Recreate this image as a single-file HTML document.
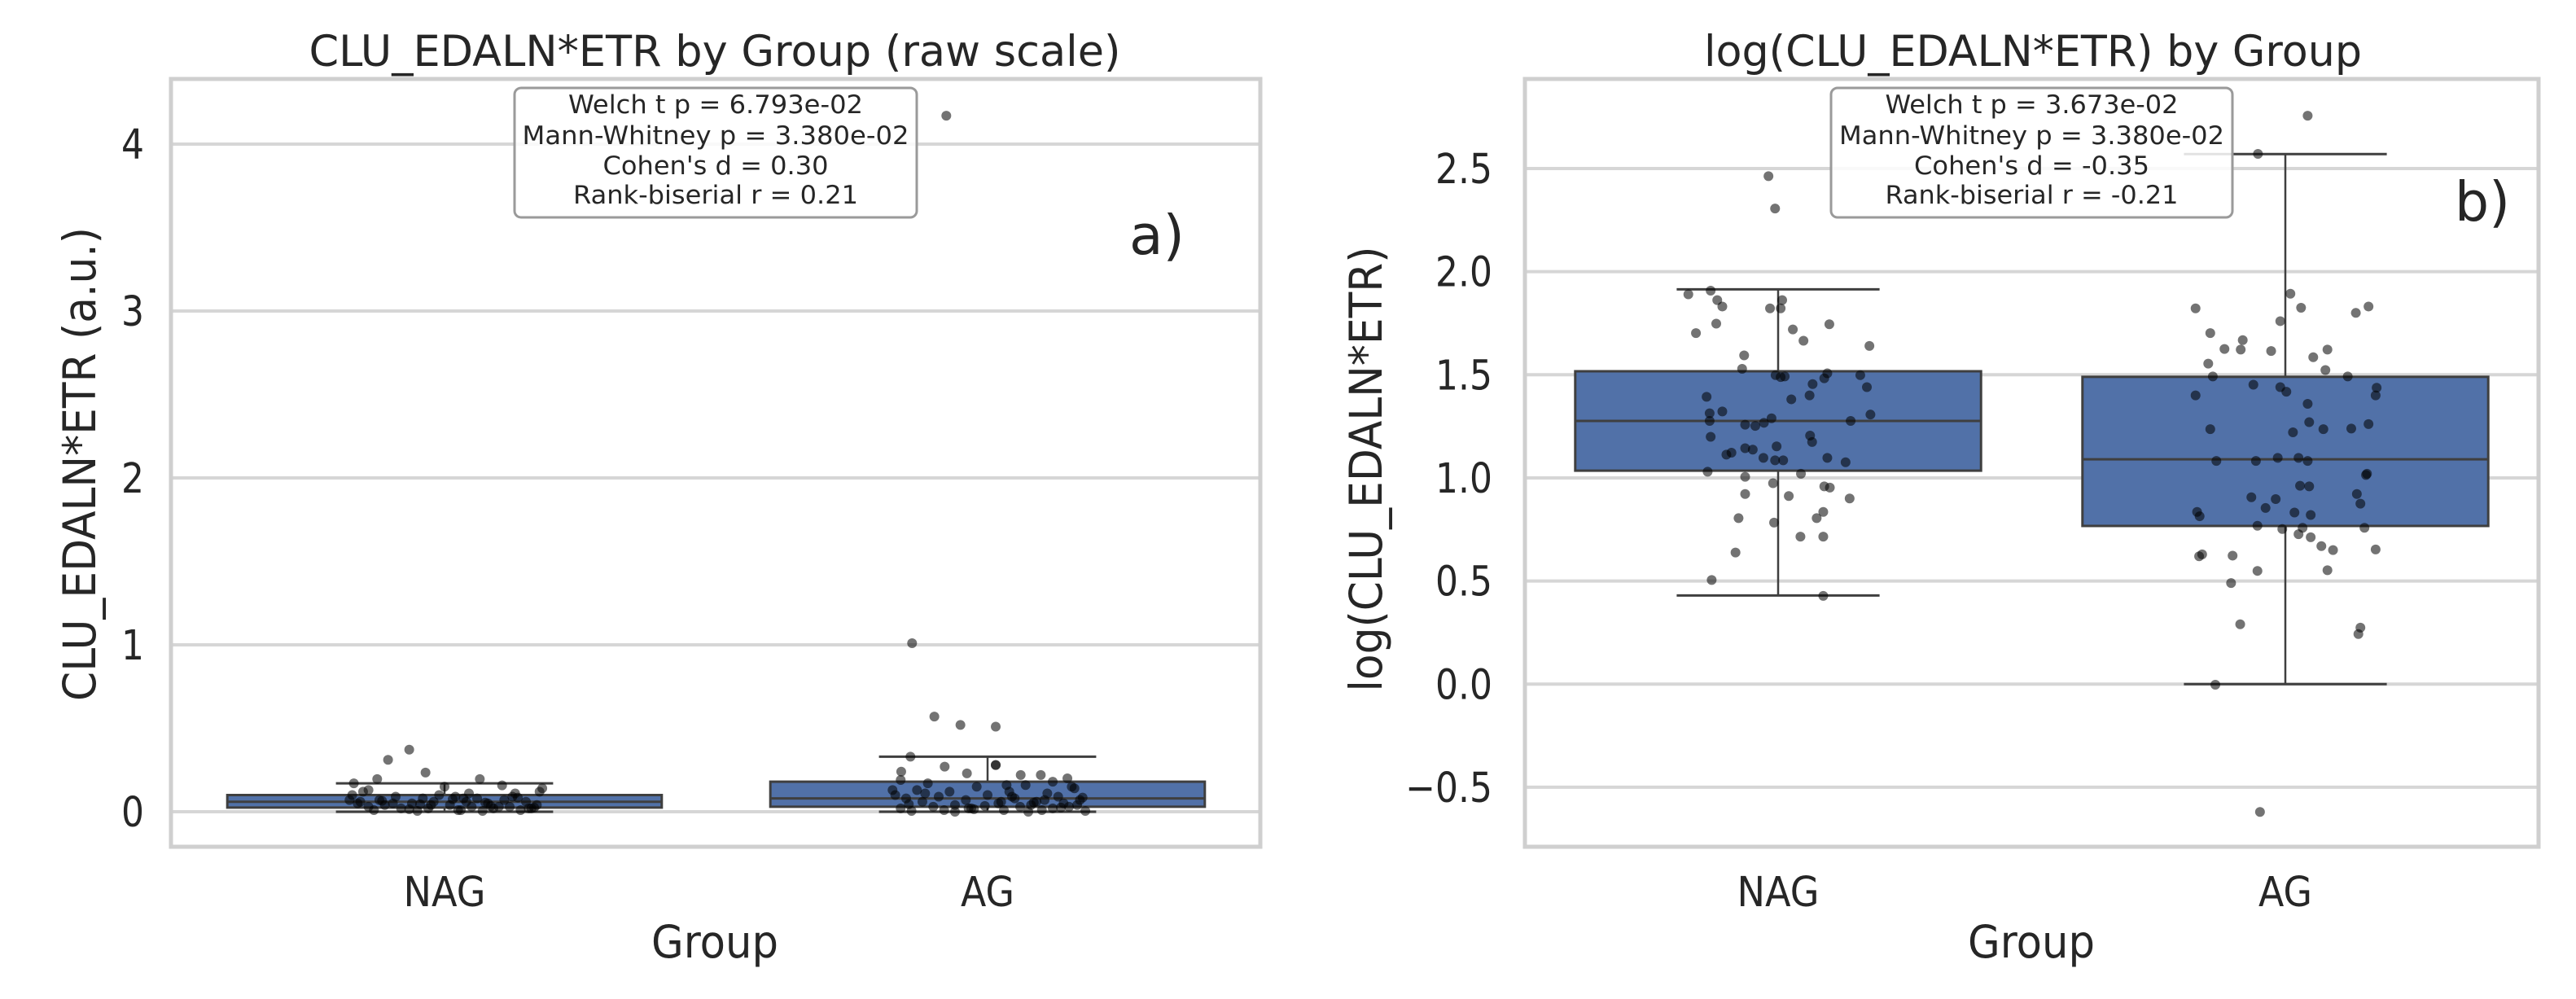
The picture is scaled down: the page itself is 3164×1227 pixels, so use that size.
<!DOCTYPE html>
<html><head><meta charset="utf-8">
<style>
html,body{margin:0;padding:0;background:#fff;}
svg{display:block;}
text{font-family:"DejaVu Sans","Liberation Sans",sans-serif;fill:#262626;}
</style></head>
<body>
<svg id="fig" width="3164" height="1227" viewBox="0 0 3164 1227" xmlns="http://www.w3.org/2000/svg">
<rect x="0" y="0" width="3164" height="1227" fill="#fff"/>
<g id="pa"></g>
<g id="pb"></g>
</svg>
<script>
// ---------- data ----------
const categories = ["NAG", "AG"];
// panel a (raw)
const rawTicks = [0, 1, 2, 3, 4];
const rawTickLabels = ["0", "1", "2", "3", "4"];
const rawBoxNAG = {low: 0.0, q1: 0.025, med: 0.06, q3: 0.10, high: 0.17};
const rawBoxAG = {low: 0.0, q1: 0.03, med: 0.08, q3: 0.18, high: 0.33};
const rawNAGVals = [0.372,0.311,0.235,0.196,0.170,0.196,0.158,0.14,0.12,0.11,0.10,0.09,0.09,0.08,0.08,0.07,0.07,0.06,0.06,0.06,0.05,0.05,0.05,0.04,0.04,0.04,0.03,0.03,0.03,0.02,0.02,0.02,0.02,0.01,0.01,0.01,0.005,0.005,0.10,0.12,0.07,0.03,0.08,0.05,0.15,0.02,0.06,0.11,0.04,0.09,0.015,0.035,0.065,0.075,0.025,0.045,0.13,0.055,0.085,0.01];
const rawNAGJit = [-0.065,-0.104,-0.035,-0.124,-0.167,0.065,0.106,0.18,-0.15,0.13,-0.17,0.02,-0.09,0.06,-0.04,0.11,-0.12,0.15,-0.02,0.04,-0.16,0.08,-0.06,0.17,-0.11,0.01,0.12,-0.14,0.05,-0.08,0.09,-0.03,0.16,-0.13,0.03,0.14,-0.05,0.07,-0.01,0.175,-0.175,0.10,0.035,-0.095,0.0,0.155,-0.155,0.045,-0.025,0.125,-0.065,0.085,-0.115,0.015,0.165,-0.045,-0.14,0.075,0.135,0.025];
const rawAGVals = [4.17,1.01,0.57,0.52,0.51,0.33,0.24,0.27,0.28,0.23,0.28,0.22,0.22,0.20,0.19,0.18,0.17,0.16,0.15,0.14,0.13,0.12,0.12,0.11,0.10,0.10,0.09,0.09,0.08,0.08,0.07,0.07,0.06,0.06,0.05,0.05,0.04,0.04,0.03,0.03,0.03,0.02,0.02,0.02,0.01,0.01,0.01,0.005,0.005,0.0,0.0,0.15,0.11,0.06,0.04,0.02,0.09,0.13,0.07,0.035,0.025,0.045,0.055,0.015,0.085,0.16];
const rawAGJit = [-0.076,-0.139,-0.098,-0.050,0.015,-0.142,-0.159,-0.079,0.015,-0.038,0.015,0.061,0.098,0.147,-0.16,0.12,-0.11,0.07,-0.02,0.16,-0.13,0.04,-0.07,0.11,-0.17,0.0,0.13,-0.09,0.05,-0.15,0.17,-0.04,0.09,-0.12,0.02,0.14,-0.06,0.08,-0.1,0.06,0.15,-0.03,0.12,-0.16,0.03,-0.08,0.1,-0.14,0.18,-0.06,0.075,0.155,-0.115,0.025,0.165,-0.035,0.045,-0.175,0.105,-0.005,0.135,-0.145,0.085,-0.025,0.175,0.035];
// panel b (log)
const logTicks = [-0.5, 0.0, 0.5, 1.0, 1.5, 2.0, 2.5];
const logTickLabels = ["\u22120.5", "0.0", "0.5", "1.0", "1.5", "2.0", "2.5"];
const logBoxNAG = {low: 0.43, q1: 1.035, med: 1.276, q3: 1.517, high: 1.914};
const logBoxAG = {low: 0.0, q1: 0.767, med: 1.09, q3: 1.49, high: 2.57};
const logNAGVals = [2.463,2.306,1.890,1.908,1.862,1.831,1.822,1.822,1.862,1.702,1.748,1.745,1.720,1.665,1.640,1.594,1.529,1.498,1.489,1.492,1.507,1.483,1.455,1.498,1.440,1.393,1.381,1.400,1.322,1.313,1.276,1.267,1.252,1.258,1.289,1.307,1.276,1.199,1.205,1.174,1.144,1.137,1.122,1.113,1.153,1.085,1.097,1.085,1.097,1.076,1.030,1.020,0.974,1.005,0.922,0.912,0.953,0.959,0.900,0.805,0.783,0.835,0.805,0.715,0.715,0.638,0.505,0.428];
const logNAGJit = [-0.019,-0.006,-0.177,-0.133,-0.120,-0.110,0.005,-0.016,0.008,-0.162,-0.122,0.101,0.029,0.050,0.180,-0.067,-0.071,-0.005,0.005,0.013,0.097,0.091,0.068,0.162,0.175,-0.141,0.026,0.062,-0.110,-0.135,-0.135,-0.028,-0.045,-0.065,-0.013,0.182,0.143,-0.133,0.063,0.067,-0.065,-0.050,-0.092,-0.102,-0.003,-0.006,-0.029,0.010,0.097,0.133,-0.139,0.045,-0.010,-0.065,-0.065,0.021,0.102,0.091,0.141,-0.078,-0.008,0.089,0.076,0.044,0.089,-0.084,-0.131,0.089];
const logAGVals = [2.756,2.571,1.893,1.825,1.822,1.831,1.800,1.760,1.702,1.668,1.625,1.622,1.615,1.622,1.585,1.554,1.492,1.452,1.440,1.418,1.523,1.492,1.437,1.400,1.400,1.359,1.270,1.236,1.236,1.261,1.239,1.221,1.082,1.082,1.097,1.097,1.082,1.020,0.962,0.959,0.922,0.875,0.906,0.897,0.854,0.832,0.820,0.835,0.814,0.768,0.752,0.758,0.758,0.712,0.727,0.669,0.650,0.653,0.620,0.623,0.629,0.549,0.552,0.490,0.290,0.274,0.243,-0.003,-0.620,1.014];
const logAGJit = [0.044,-0.054,0.010,0.031,-0.177,0.164,0.139,-0.010,-0.148,-0.084,-0.120,-0.088,-0.028,0.083,0.055,-0.152,-0.143,-0.063,-0.010,0.002,0.079,0.123,0.180,0.178,-0.177,0.044,0.047,0.075,-0.148,0.164,0.130,0.015,-0.136,-0.058,-0.015,0.026,0.044,0.161,0.029,0.047,0.141,0.148,-0.067,-0.019,-0.039,0.018,0.050,-0.174,-0.169,-0.055,-0.006,0.034,0.156,0.050,0.026,0.071,0.094,0.178,-0.170,-0.104,-0.164,-0.055,0.083,-0.107,-0.089,0.148,0.144,-0.138,-0.050,0.159];
const statsA = ["Welch t p = 6.793e-02","Mann-Whitney p = 3.380e-02","Cohen's d = 0.30","Rank-biserial r = 0.21"];
const statsB = ["Welch t p = 3.673e-02","Mann-Whitney p = 3.380e-02","Cohen's d = -0.35","Rank-biserial r = -0.21"];

// ---------- helpers ----------
const NS = "http://www.w3.org/2000/svg";
function mk(parent, tag, attrs){const e=document.createElementNS(NS,tag);for(const k in attrs)e.setAttribute(k,attrs[k]);parent.appendChild(e);return e;}
function txt(parent, s, x, y, size, anchor, len, rot){
  const g=mk(parent,"g",{transform:"translate("+x+","+y+")"+(rot?" rotate(-90)":"")+" scale(1,1.15)"});
  const t=mk(g,"text",{x:0,y:0,"font-size":size,"text-anchor":anchor||"middle"});
  if(len){t.setAttribute("textLength",len);t.setAttribute("lengthAdjust","spacingAndGlyphs");}
  t.textContent=s;return t;
}

function panel(root, cfg){
  const L=cfg.left,R=cfg.right,T=97,B=1040;
  const y=v=>cfg.y0+(cfg.v0-v)*cfg.ppu;
  const xc=i=>cfg.centers[i];
  const bandPx=cfg.centers[1]-cfg.centers[0];
  cfg.ticks.forEach((v,i)=>{
    const g=mk(root,"line",{x1:L,x2:R,y1:y(v),y2:y(v),stroke:"#d6d6d6","stroke-width":4});
    
    
    const t=txt(root,cfg.tickLabels[i],cfg.tickRight,y(v)+18,44,"end");
    
    
  });
  const fr=mk(root,"rect",{x:L,y:T,width:R-L,height:B-T,fill:"none",stroke:"#cfcfcf","stroke-width":5});
  
  
  cfg.boxes.forEach((b,i)=>{
    const cx=xc(i),hw=bandPx*0.4,cw=bandPx*0.2;
    const wl=mk(root,"line",{x1:cx,x2:cx,y1:y(b.high),y2:y(b.q3),stroke:"#3f3f3f","stroke-width":2.5});
    
    
    const wl2=mk(root,"line",{x1:cx,x2:cx,y1:y(b.q1),y2:y(b.low),stroke:"#3f3f3f","stroke-width":2.5});
    
    
    [b.high,b.low].forEach(v=>{
      const c=mk(root,"line",{x1:cx-cw,x2:cx+cw,y1:y(v),y2:y(v),stroke:"#3f3f3f","stroke-width":3});
      
      
    });
    const bx=mk(root,"rect",{x:cx-hw,y:y(b.q3),width:2*hw,height:y(b.q1)-y(b.q3),fill:"#5171a8",stroke:"#3f3f3f","stroke-width":3});
    
    
    const md=mk(root,"line",{x1:cx-hw,x2:cx+hw,y1:y(b.med),y2:y(b.med),stroke:"#3f3f3f","stroke-width":3});
    
    
  });
  cfg.points.forEach((p,i)=>{
    p.vals.forEach((v,k)=>{
      const c=mk(root,"circle",{cx:xc(i)+p.jit[k]*bandPx,cy:y(v),r:6,fill:"#000","fill-opacity":0.55});
      
      
    });
  });
  categories.forEach((c,i)=>{
    const t=txt(root,c,xc(i),1113,44,"middle",cfg.catLen[i]);
    
    
  });
  const xl=txt(root,"Group",cfg.groupX,1176,48,"middle",156);
  
  
  const yl=txt(root,cfg.ylabel,cfg.ylabX+16,cfg.ylabY,48,"middle",cfg.ylabLen,true);
  
  
  const ti=txt(root,cfg.title,cfg.titleX,81,46,"middle",cfg.titleLen);
  
  
  const sb=mk(root,"rect",{x:cfg.sbx,y:108,width:cfg.sbw,height:159,rx:8,fill:"#fff","fill-opacity":0.85,stroke:"#9a9a9a","stroke-width":3});
  
  
  const cyl=[129,167,204,240];
  cfg.stats.forEach((s,i)=>{
    const t=txt(root,s,cfg.sbx+cfg.sbw/2,cyl[i]+10,27,"middle",cfg.statLen[i]);
    
    
  });
  const pl=txt(root,cfg.panelLabel,cfg.plX,cfg.plY,58,"middle",68);
  
  
}

panel(document.getElementById("pa"),{
  left:210,right:1548,y0:997,v0:0,ppu:205,centers:[546,1213],
  ticks:rawTicks,tickLabels:rawTickLabels,tickRight:177,
  boxes:[rawBoxNAG,rawBoxAG],
  points:[{vals:rawNAGVals,jit:rawNAGJit},{vals:rawAGVals,jit:rawAGJit}],
  catLen:[101,66],groupX:878,ylabel:"CLU_EDALN*ETR (a.u.)",ylabX:101,ylabY:570,ylabLen:582,
  title:"CLU_EDALN*ETR by Group (raw scale)",titleX:878,titleLen:997,
  sbx:632,sbw:494,stats:statsA,statLen:[362,475,277,350],
  panelLabel:"a)",plX:1421,plY:312
});
panel(document.getElementById("pb"),{
  left:1873,right:3118,y0:207,v0:2.5,ppu:253.3,centers:[2184,2807],
  ticks:logTicks,tickLabels:logTickLabels,tickRight:1833,
  boxes:[logBoxNAG,logBoxAG],
  points:[{vals:logNAGVals,jit:logNAGJit},{vals:logAGVals,jit:logAGJit}],
  catLen:[101,66],groupX:2495,ylabel:"log(CLU_EDALN*ETR)",ylabX:1681,ylabY:576,ylabLen:547,
  title:"log(CLU_EDALN*ETR) by Group",titleX:2497,titleLen:808,
  sbx:2249,sbw:493,stats:statsB,statLen:[360,473,289,360],
  panelLabel:"b)",plX:3049,plY:271
});
</script>
</body></html>
